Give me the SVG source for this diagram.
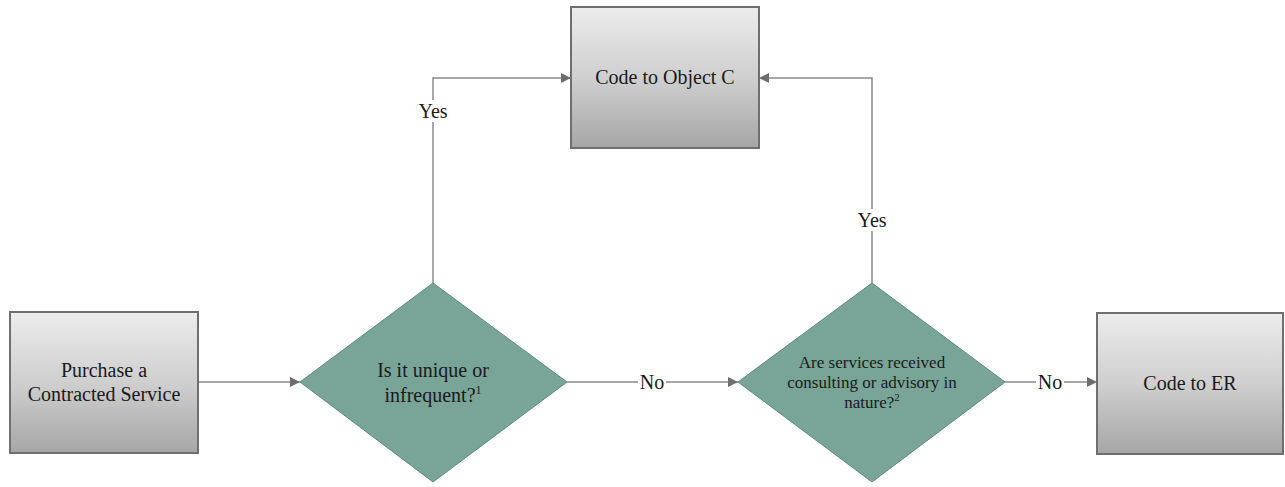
<svg xmlns="http://www.w3.org/2000/svg" width="1285" height="487" viewBox="0 0 1285 487">
<defs>
<linearGradient id="boxGrad" x1="0" y1="0" x2="0" y2="1">
<stop offset="0" stop-color="#ececec"/>
<stop offset="0.5" stop-color="#cfcfcf"/>
<stop offset="1" stop-color="#a6a6a6"/>
</linearGradient>
<marker id="arr" viewBox="0 0 10 10" refX="10" refY="5" markerWidth="10" markerHeight="10" markerUnits="userSpaceOnUse" orient="auto">
<path d="M0,0 L10,5 L0,10 Z" fill="#6e6e6e"/>
</marker>
</defs>
<style>
.box{fill:url(#boxGrad);stroke:#6f6f6f;stroke-width:2}
.dia{fill:#78a597;stroke:#5f8c7f;stroke-width:1}
.line{fill:none;stroke:#8a8a8a;stroke-width:1.5}
text{font-family:"Liberation Serif","DejaVu Serif",serif;fill:#1a1a1a;text-anchor:middle}
</style>
<rect width="1285" height="487" fill="#ffffff"/>
<g id="connectors" font-size="20">
<path class="line" d="M198,382 L300,382" marker-end="url(#arr)"/>
<path class="line" d="M567,382 L738,382" marker-end="url(#arr)"/>
<path class="line" d="M1005,382 L1097,382" marker-end="url(#arr)"/>
<path class="line" d="M433,283 L433,78 L571,78" marker-end="url(#arr)"/>
<path class="line" d="M872,283 L872,78 L759,78" marker-end="url(#arr)"/>
<rect x="638" y="372" width="28" height="20" fill="#ffffff"/>
<text x="652" y="389">No</text>
<rect x="1036" y="372" width="28" height="20" fill="#ffffff"/>
<text x="1050" y="389">No</text>
<rect x="416" y="100" width="34" height="22" fill="#ffffff"/>
<text x="433" y="118">Yes</text>
<rect x="855" y="209" width="34" height="22" fill="#ffffff"/>
<text x="872" y="227">Yes</text>
</g>
<g id="purchase" font-size="20">
<rect class="box" x="10" y="312" width="188" height="141"/>
<text x="104" y="377">Purchase a</text>
<text x="104" y="401">Contracted Service</text>
</g>
<g id="unique" font-size="20">
<polygon class="dia" points="433,283 567,382 433,482 300,382"/>
<text x="433" y="377">Is it unique or</text>
<text x="433" y="402">infrequent?<tspan font-size="12" dy="-8">1</tspan></text>
</g>
<g id="consulting" font-size="17">
<polygon class="dia" points="872,283 1005,382 872,482 738,382"/>
<text x="872" y="368">Are services received</text>
<text x="872" y="388">consulting or advisory in</text>
<text x="872" y="408">nature?<tspan font-size="11" dy="-7">2</tspan></text>
</g>
<g id="objectc" font-size="20">
<rect class="box" x="571" y="7" width="188" height="141"/>
<text x="665" y="84">Code to Object C</text>
</g>
<g id="er" font-size="20">
<rect class="box" x="1097" y="313" width="186" height="141"/>
<text x="1190" y="390">Code to ER</text>
</g>
</svg>
